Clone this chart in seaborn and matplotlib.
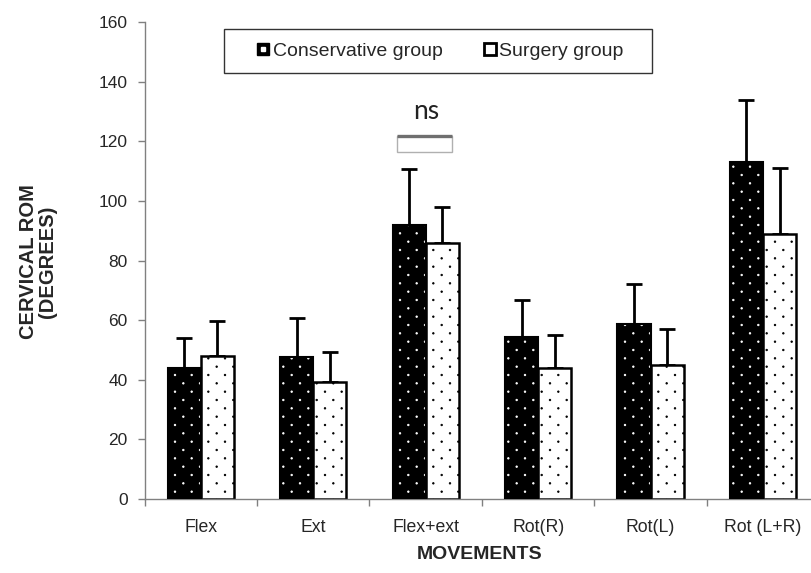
import numpy as np
import pandas as pd
import matplotlib
matplotlib.use("Agg")
import matplotlib.pyplot as plt
from matplotlib import hatch as mhatch
from matplotlib.path import Path
from matplotlib.patches import Rectangle
from matplotlib.lines import Line2D
import seaborn as sns

# ---- data -------------------------------------------------------------
movements = ["Flex", "Ext", "Flex+ext", "Rot(R)", "Rot(L)", "Rot (L+R)"]
groups = ["Conservative group", "Surgery group"]
conservative_mean = [43.9, 47.7, 91.9, 54.2, 58.8, 113.2]
conservative_sd = [10.0, 12.9, 18.7, 12.5, 13.2, 20.7]
surgery_mean = [48.1, 39.2, 86.0, 44.0, 45.1, 89.0]
surgery_sd = [11.7, 10.0, 12.0, 11.0, 12.0, 22.0]
y_ticks = [0, 20, 40, 60, 80, 100, 120, 140, 160]
ns_label = "ns"


# ---- dotted fill: rows of dots, every other row shifted half a step ----
class StaggeredDots(mhatch.HatchPatternBase):
    radius = 0.0075

    def __init__(self, hatch, density):
        self.rows = hatch.count('.') * density * 2
        self.cols = self.rows // 2
        circle = Path.unit_circle()
        self.shape_vertices = circle.vertices * self.radius
        self.shape_codes = circle.codes
        n_shapes = (self.rows + 1) * (self.cols + 1) if self.rows else 0
        self.num_vertices = n_shapes * len(self.shape_vertices)

    def set_vertices_and_codes(self, vertices, codes):
        vparts, cparts = [], []
        for r in range(self.rows + 1):
            shift = 0.0 if r % 2 == 0 else 0.5 / self.cols
            for c in range(self.cols + 1):
                vparts.append(self.shape_vertices + [c / self.cols + shift, r / self.rows])
                cparts.append(self.shape_codes)
        np.concatenate(vparts, out=vertices)
        np.concatenate(cparts, out=codes)


mhatch._hatch_types = [StaggeredDots if t is mhatch.SmallFilledCircles else t
                       for t in mhatch._hatch_types]

sns.set_theme(style="ticks")
plt.rcParams["font.family"] = ["Liberation Sans", "DejaVu Sans"]
plt.rcParams["hatch.linewidth"] = 0.6

df = pd.DataFrame({
    "movement": movements * 2,
    "group": [groups[0]] * len(movements) + [groups[1]] * len(movements),
    "value": conservative_mean + surgery_mean,
})

fig = plt.figure(figsize=(8.12, 5.73), dpi=100)
ax = fig.add_axes([0.178, 0.129, 0.831, 0.8325])

sns.barplot(data=df, x="movement", y="value", hue="group", order=movements,
            hue_order=groups, palette=["black", "white"], width=0.59,
            errorbar=None, edgecolor="black", linewidth=1.8, legend=False,
            saturation=1, ax=ax, zorder=2)

containers = ax.containers
# conservative bars: white dots on black, with a separate black outline
for bar in containers[0]:
    bar.set_edgecolor("white")
    bar.set_linewidth(0)
    bar.set_hatch(".")
    x, y = bar.get_xy()
    ax.add_patch(Rectangle((x, y), bar.get_width(), bar.get_height(),
                           fill=False, edgecolor="black", linewidth=1.5, zorder=3))
# surgery bars: black dots on white
for bar in containers[1]:
    bar.set_hatch(".")

# upper-only error bars
for cont, means, sds in [(containers[0], conservative_mean, conservative_sd),
                         (containers[1], surgery_mean, surgery_sd)]:
    xs = [b.get_x() + b.get_width() / 2 for b in cont]
    ax.errorbar(xs, means, yerr=[np.zeros(len(sds)), sds], fmt="none",
                ecolor="black", elinewidth=2, capsize=6, capthick=2, zorder=1)

# significance marker over Flex+ext
i = movements.index("Flex+ext")
ax.add_patch(Rectangle((i - 0.255, 116.4), 0.49, 5.4, fill=False,
                       edgecolor="#b0b0b0", linewidth=1.0, zorder=4))
ax.plot([i - 0.255, i + 0.235], [121.8, 121.8], color="#6f6f6f", linewidth=2.4,
        solid_capstyle="butt", zorder=5)
ax.text(i, 130.0, ns_label, ha="center", va="center", fontsize=19,
        family=["Lato", "DejaVu Sans"], color="#222222")

# axes
ax.set_ylim(0, 160)
ax.set_xlim(-0.5, len(movements) - 0.5)
ax.set_yticks(y_ticks)
ax.set_xticks(np.arange(len(movements)))
ax.set_xticklabels(movements)
ax.set_xticks(np.arange(len(movements) + 1) - 0.5, minor=True)
ax.tick_params(axis="x", which="major", length=0, pad=14, labelsize=12.7)
ax.tick_params(axis="x", which="minor", length=5, width=1, color="#808080", direction="out")
ax.tick_params(axis="y", length=5, width=1, color="#808080", pad=7, labelsize=12.5)
for side in ["top", "right"]:
    ax.spines[side].set_visible(False)
for side in ["left", "bottom"]:
    ax.spines[side].set_color("#808080")
    ax.spines[side].set_linewidth(1)

ax.set_xlabel("MOVEMENTS", fontsize=14, fontweight="bold")
ax.set_ylabel("CERVICAL ROM\n(DEGREES)", fontsize=14.5, fontweight="bold",
              linespacing=0.95)
ax.xaxis.set_label_coords(0.497, -0.099)
ax.yaxis.set_label_coords(-0.158, 0.497)
ax.xaxis.label.set_va("top")
ax.yaxis.label.set_va("center")

# legend: entries centred inside a separately drawn box
ax.add_patch(Rectangle((0.1178, 0.893), 0.6341, 0.0922, transform=ax.transAxes,
                       facecolor="white", edgecolor="#333333", linewidth=1.0,
                       zorder=6, clip_on=False))
h_cons = (Line2D([], [], marker="s", ls="none", ms=8, mfc="black", mec="black"),
          Line2D([], [], marker="s", ls="none", ms=2.4, mfc="white", mec="white"))
h_surg = (Line2D([], [], marker="s", ls="none", ms=8, mfc="white", mec="black", mew=2),)
leg = ax.legend([h_cons, h_surg], groups, loc="center",
                bbox_to_anchor=(0.439, 0.939), ncol=2, frameon=False,
                fontsize=14, handlelength=0.6, handletextpad=0.2,
                columnspacing=2.1, borderpad=0, borderaxespad=0)
leg.set_zorder(7)

fig.savefig("out.png", dpi=100)
